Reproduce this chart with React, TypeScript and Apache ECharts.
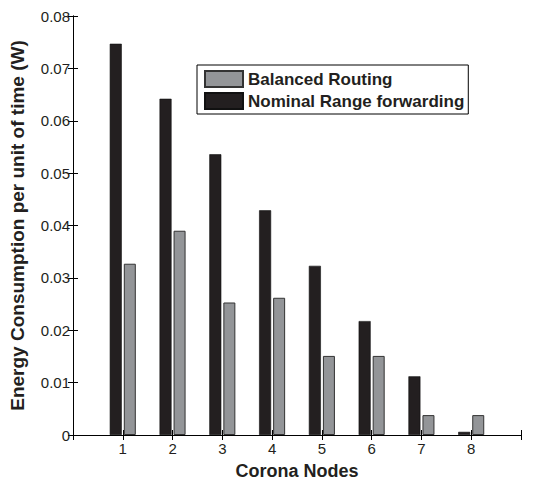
import React, { useEffect, useRef } from "react";
import * as echarts from "echarts";

const nodes = [1, 2, 3, 4, 5, 6, 7, 8];
const nominalRange = [0.0747, 0.0642, 0.0536, 0.0429, 0.0323, 0.02175, 0.0112, 0.0006];
const balancedRouting = [0.0327, 0.039, 0.0253, 0.0262, 0.0151, 0.0151, 0.0038, 0.0038];
const yTicks = [0, 0.01, 0.02, 0.03, 0.04, 0.05, 0.06, 0.07, 0.08];

const FONT = "Liberation Sans, Arial, Helvetica, sans-serif";

export default function App() {
  const ref = useRef<HTMLDivElement>(null);
  useEffect(() => {
    if (!ref.current) return;
    const chart = echarts.init(ref.current, undefined, { renderer: "svg" });
    const axisLine = { show: true, lineStyle: { color: "#000", width: 1 } };
    chart.setOption({
      animation: false,
      backgroundColor: "#fff",
      textStyle: { fontFamily: FONT },
      grid: { left: 71, right: 25, top: 16, bottom: 46, containLabel: false },
      legend: {
        data: ["Balanced Routing", "Nominal Range forwarding"],
        orient: "vertical",
        left: 197,
        top: 65,
        backgroundColor: "#fff",
        borderColor: "#000",
        borderWidth: 1,
        borderRadius: 0,
        padding: [5, 4, 4, 7],
        itemWidth: 38,
        itemHeight: 16,
        itemGap: 4,
        icon: "rect",
        textStyle: { fontFamily: FONT, fontSize: 17, fontWeight: "bold", color: "#231f20" },
      },
      xAxis: [
        {
          type: "value",
          min: 0,
          max: 9,
          interval: 1,
          name: "Corona Nodes",
          nameLocation: "middle",
          nameGap: 27,
          nameTextStyle: { fontFamily: FONT, fontSize: 18, fontWeight: "bold", color: "#231f20" },
          axisLine,
          axisTick: { show: true, inside: true, length: 5, lineStyle: { color: "#000" } },
          axisLabel: {
            fontFamily: FONT,
            fontSize: 15,
            color: "#231f20",
            margin: 6,
            formatter: (v: number) => (nodes.includes(v) ? String(v) : ""),
          },
          splitLine: { show: false },
        },
        {
          type: "value",
          position: "top",
          min: 0,
          max: 9,
          interval: 1,
          axisLine,
          axisTick: { show: true, inside: true, length: 5, lineStyle: { color: "#000" } },
          axisLabel: { show: false },
          splitLine: { show: false },
        },
      ],
      yAxis: [
        {
          type: "value",
          min: yTicks[0],
          max: yTicks[yTicks.length - 1],
          interval: 0.01,
          name: "Energy Consumption per unit of time (W)",
          nameLocation: "middle",
          nameGap: 46,
          nameTextStyle: { fontFamily: FONT, fontSize: 19, fontWeight: "bold", color: "#231f20" },
          axisLine,
          axisTick: { show: true, inside: true, length: 5, lineStyle: { color: "#000" } },
          axisLabel: {
            fontFamily: FONT,
            fontSize: 15,
            color: "#231f20",
            margin: 3,
            formatter: (v: number) => (v === 0 ? "0" : v.toFixed(2)),
          },
          splitLine: { show: false },
        },
        {
          type: "value",
          position: "right",
          min: yTicks[0],
          max: yTicks[yTicks.length - 1],
          interval: 0.01,
          axisLine,
          axisTick: { show: true, inside: true, length: 5, lineStyle: { color: "#000" } },
          axisLabel: { show: false },
          splitLine: { show: false },
        },
      ],
      series: [
        {
          name: "Nominal Range forwarding",
          type: "bar",
          xAxisIndex: 0,
          yAxisIndex: 0,
          barWidth: 12,
          barGap: "17%",
          itemStyle: { color: "#231f20", borderColor: "#111", borderWidth: 0.6 },
          data: nodes.map((n, i) => [n, nominalRange[i]]),
        },
        {
          name: "Balanced Routing",
          type: "bar",
          xAxisIndex: 0,
          yAxisIndex: 0,
          barWidth: 12,
          barGap: "17%",
          itemStyle: { color: "#939598", borderColor: "#333", borderWidth: 1 },
          data: nodes.map((n, i) => [n, balancedRouting[i]]),
        },
      ],
    });
    return () => chart.dispose();
  }, []);
  return (
    <div
      ref={ref}
      style={{ position: "fixed", left: 0, top: 0, width: 546, height: 485, background: "#fff" }}
    />
  );
}
